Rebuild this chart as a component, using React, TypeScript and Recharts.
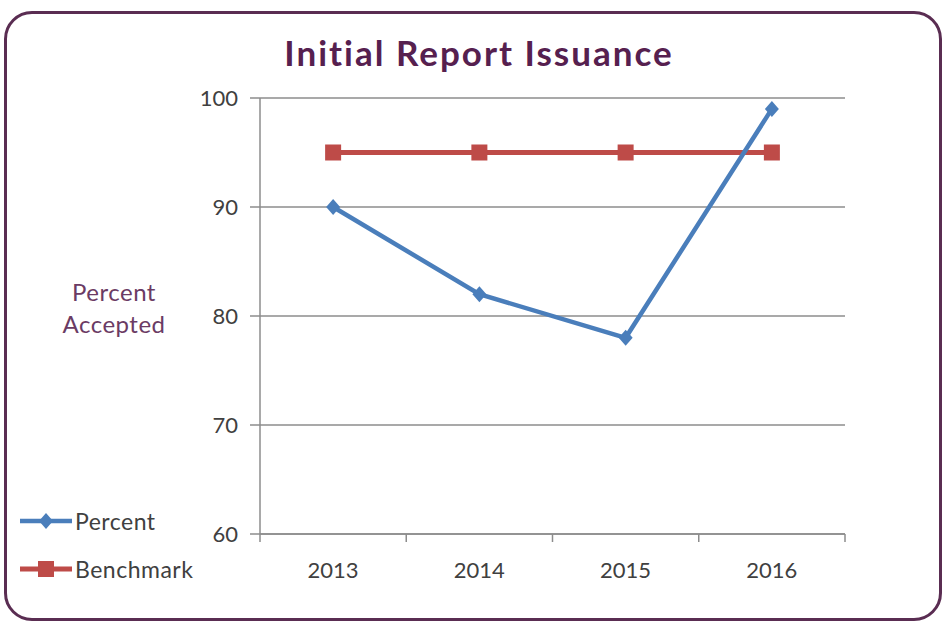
import { CartesianGrid, ComposedChart, Line, XAxis, YAxis } from 'recharts';

const YEARS = ['2013', '2014', '2015', '2016'];
const PERCENT = [90, 82, 78, 99];
const BENCHMARK = [95, 95, 95, 95];
const Y_TICKS = [60, 70, 80, 90, 100];

const FONT = 'Lato, "Open Sans", sans-serif';
const TEXT = '#404040';
const GRID = '#8c8c8c';
const BLUE = '#4a7ebb';
const RED = '#be4b48';
const PLUM = '#56204f';
const LABEL = '#6b3b64';

// pos sits in the middle of each year's band, so integer ticks mark band edges
const data = YEARS.map((year, i) => ({
  pos: i + 0.5,
  year,
  percent: PERCENT[i],
  benchmark: BENCHMARK[i],
}));
const X_TICKS = Array.from({ length: YEARS.length * 2 + 1 }, (_, k) => k / 2);

function Diamond({ cx, cy, fill }: { cx?: number; cy?: number; fill: string }) {
  if (cx == null || cy == null) return null;
  return <polygon points={`${cx},${cy - 8} ${cx + 7},${cy} ${cx},${cy + 8} ${cx - 7},${cy}`} fill={fill} />;
}

function Square({ cx, cy, fill }: { cx?: number; cy?: number; fill: string }) {
  if (cx == null || cy == null) return null;
  return <rect x={cx - 8} y={cy - 8} width={16} height={16} fill={fill} />;
}

const SERIES = [
  { key: 'benchmark', name: 'Benchmark', color: RED, width: 5, Marker: Square },
  { key: 'percent', name: 'Percent', color: BLUE, width: 4.5, Marker: Diamond },
];

function XTick({ x, y, payload }: any) {
  const v = payload.value as number;
  if (Number.isInteger(v)) {
    return <line x1={x} x2={x} y1={y} y2={y + 8} stroke={GRID} strokeWidth={1.5} />;
  }
  return (
    <text x={x} y={y + 44} textAnchor="middle" fill={TEXT} fontSize={22} fontFamily={FONT}>
      {YEARS[Math.floor(v)]}
    </text>
  );
}

export default function App() {
  const legendOrder = ['percent', 'benchmark'];
  return (
    <div style={{ position: 'absolute', left: 0, top: 0, width: 946, height: 625, background: '#fff', fontFamily: FONT }}>
      <ComposedChart
        width={946}
        height={625}
        data={data}
        margin={{ top: 98, right: 101, bottom: 31, left: 200 }}
      >
        <CartesianGrid vertical={false} stroke={GRID} strokeWidth={1.5} />
        <XAxis
          dataKey="pos"
          type="number"
          domain={[0, YEARS.length]}
          ticks={X_TICKS}
          interval={0}
          height={60}
          tickLine={false}
          tickSize={0}
          tickMargin={0}
          axisLine={{ stroke: GRID, strokeWidth: 1.5 }}
          tick={<XTick />}
        />
        <YAxis
          type="number"
          domain={[60, 100]}
          ticks={Y_TICKS}
          interval={0}
          width={60}
          tickSize={10}
          tickMargin={12}
          axisLine={{ stroke: GRID, strokeWidth: 1.5 }}
          tickLine={{ stroke: GRID, strokeWidth: 1.5 }}
          tick={{ fill: TEXT, fontSize: 22, fontFamily: FONT }}
        />
        {SERIES.map((s) => (
          <Line
            key={s.key}
            dataKey={s.key}
            name={s.name}
            type="linear"
            stroke={s.color}
            strokeWidth={s.width}
            dot={(p: any) => <s.Marker key={`${s.key}-${p.index}`} cx={p.cx} cy={p.cy} fill={s.color} />}
            activeDot={false}
            isAnimationActive={false}
          />
        ))}
      </ComposedChart>

      <div
        style={{
          position: 'absolute',
          left: 0,
          width: 958,
          top: 37,
          textAlign: 'center',
          fontSize: 35,
          lineHeight: '30px',
          fontWeight: 700,
          letterSpacing: 2,
          color: PLUM,
        }}
      >
        Initial Report Issuance
      </div>

      <div
        style={{
          position: 'absolute',
          left: 0,
          width: 228,
          top: 276,
          textAlign: 'center',
          fontSize: 24,
          lineHeight: '32px',
          letterSpacing: 0.5,
          color: LABEL,
        }}
      >
        Percent
        <br />
        Accepted
      </div>

      <div style={{ position: 'absolute', left: 18, top: 497 }}>
        {legendOrder.map((k) => {
          const s = SERIES.find((x) => x.key === k)!;
          return (
            <div key={k} style={{ display: 'flex', alignItems: 'center', height: 48 }}>
              <svg width={56} height={20} style={{ display: 'block' }}>
                <line x1={2} x2={54} y1={10} y2={10} stroke={s.color} strokeWidth={s.width} />
                <s.Marker cx={28} cy={10} fill={s.color} />
              </svg>
              <span style={{ fontSize: 23, letterSpacing: 0.5, color: TEXT, marginLeft: 1 }}>{s.name}</span>
            </div>
          );
        })}
      </div>

      <div
        style={{
          position: 'absolute',
          left: 4,
          top: 11,
          width: 938,
          height: 610,
          boxSizing: 'border-box',
          border: '3px solid #5a2d52',
          borderRadius: 28,
          pointerEvents: 'none',
        }}
      />
    </div>
  );
}
